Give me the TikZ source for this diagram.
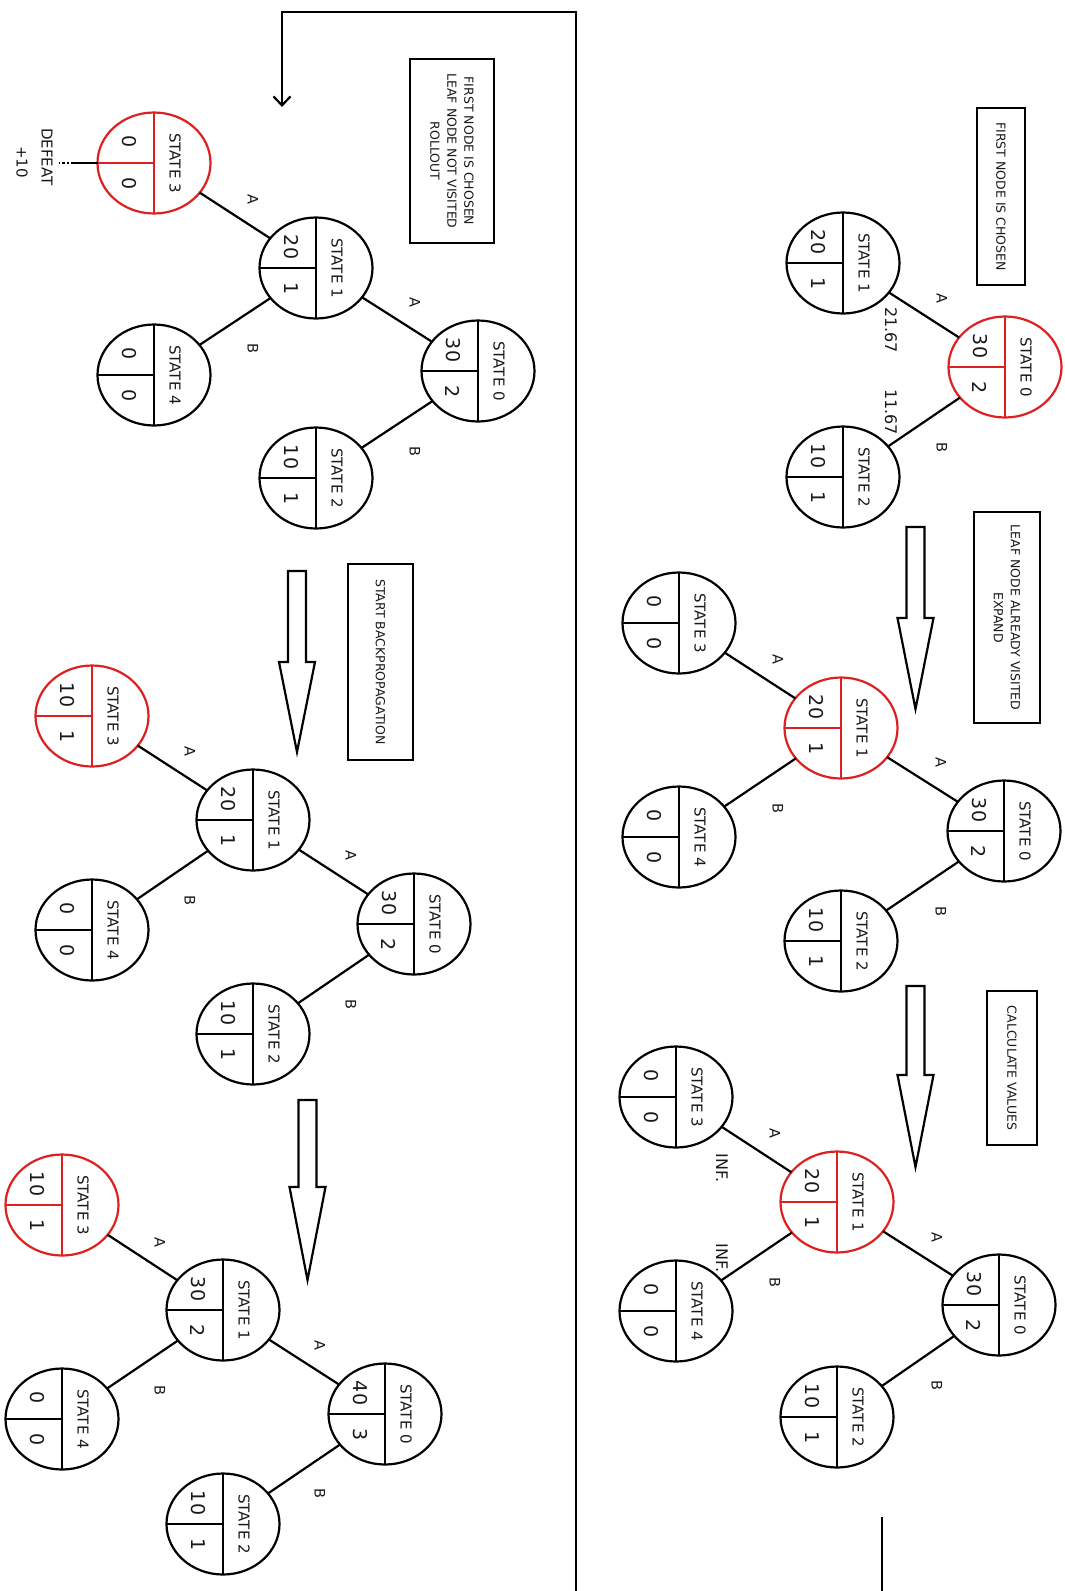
\documentclass[tikz,border=0pt]{standalone}
\usepackage{fontspec}
\setmainfont{DejaVu Sans}
\usetikzlibrary{shapes.geometric,arrows.meta}
\definecolor{selred}{RGB}{222,32,32}
\definecolor{ink}{RGB}{25,25,25}
\tikzset{
  st/.style={ellipse, draw, line width=2.2pt, minimum width=113pt, minimum height=101pt, inner sep=0pt, outer sep=0pt},
  rt/.style={rotate=-90, inner sep=0pt, text=ink},
  lab/.style={rt, font=\fontsize{15}{16}\selectfont},
  num/.style={rt, font=\fontsize{19}{20}\selectfont},
  elab/.style={rt, font=\fontsize{14.5}{15}\selectfont},
  val/.style={rt, font=\fontsize{16}{17}\selectfont},
  note/.style={draw, line width=2.2pt, rotate=-90, align=center, inner sep=0pt, text=ink, font=\fontsize{12.5}{17}\selectfont},
  edge/.style={line width=2.2pt},
  bigarrow/.style={line width=2.2pt, fill=white, line join=miter},
}
\newcommand{\mstate}[7]{%
  \node[st, draw=#4] (#1) at (#2,#3) {};
  \draw[line width=2.2pt, draw=#4] (#1.north) -- (#1.south);
  \draw[line width=2.2pt, draw=#4] (#1.west) -- (#1.center);
  \node[lab] (#1-name) at ([xshift=21pt]#1.center) {STATE #5};
  \node[num] (#1-v) at ([xshift=-25pt,yshift=21pt]#1.center) {#6};
  \node[num] (#1-n) at ([xshift=-25pt,yshift=-21pt]#1.center) {#7};
}
\newcommand{\bigdown}[4]{% centre x, top, head start, tip
  \draw[bigarrow] (#1-9,#2) -- (#1-9,#3) -- (#1-18,#3) -- (#1,#4) -- (#1+18,#3) -- (#1+9,#3) -- (#1+9,#2) -- cycle;
}
\begin{document}
\begin{tikzpicture}[x=1pt,y=-1pt]
\useasboundingbox[fill=white] (0,0) rectangle (1065,1591);

% ---------- Panel 1 ----------
\mstate{pAa}{1005}{367}{selred}{0}{30}{2}
\mstate{pAb}{843}{263}{black}{1}{20}{1}
\mstate{pAc}{843}{477}{black}{2}{10}{1}
\draw[edge] (pAa) -- (pAb);
\draw[edge] (pAa) -- (pAc);
\node[elab] (pAlA) at (942,298) {A};
\node[elab] (pAlB) at (942,447) {B};
\node[val] (pAv1) at (891,330) {21.67};
\node[val] (pAv2) at (891,412) {11.67};
\node[note, minimum width=177pt, minimum height=48pt] (boxA) at (1001,196.5) {FIRST NODE IS CHOSEN};

% ---------- Panel 2 ----------
\bigdown{915.5}{527}{618}{709}
\node[note, minimum width=211pt, minimum height=66pt] (boxB) at (1007,617.5) {LEAF NODE ALREADY VISITED\\EXPAND};
\mstate{pBb}{841}{728}{selred}{1}{20}{1}
\mstate{pBd}{679}{623}{black}{3}{0}{0}
\mstate{pBe}{679}{837}{black}{4}{0}{0}
\mstate{pBa}{1004}{831}{black}{0}{30}{2}
\mstate{pBc}{841}{941}{black}{2}{10}{1}
\draw[edge] (pBa) -- (pBb);
\draw[edge] (pBa) -- (pBc);
\draw[edge] (pBb) -- (pBd);
\draw[edge] (pBb) -- (pBe);
\node[elab] (pBl1) at (778,659) {A};
\node[elab] (pBl2) at (778,808) {B};
\node[elab] (pBl3) at (941,762) {A};
\node[elab] (pBl4) at (941,911) {B};

% ---------- Panel 3 ----------
\bigdown{915.5}{986}{1075}{1167}
\node[note, minimum width=154pt, minimum height=50pt] (boxC) at (1012,1068) {CALCULATE VALUES};
\mstate{pCb}{837}{1202}{selred}{1}{20}{1}
\mstate{pCd}{676}{1097}{black}{3}{0}{0}
\mstate{pCe}{676}{1311}{black}{4}{0}{0}
\mstate{pCa}{999}{1305}{black}{0}{30}{2}
\mstate{pCc}{837}{1417}{black}{2}{10}{1}
\draw[edge] (pCa) -- (pCb);
\draw[edge] (pCa) -- (pCc);
\draw[edge] (pCb) -- (pCd);
\draw[edge] (pCb) -- (pCe);
\node[elab] (pCl1) at (775,1133) {A};
\node[elab] (pCl2) at (775,1282) {B};
\node[elab] (pCl3) at (937,1237) {A};
\node[elab] (pCl4) at (937,1385) {B};
\node[val] (pCv1) at (722,1168) {INF.};
\node[val] (pCv2) at (722,1258) {INF.};
\coordinate (tailA) at (882,1517);
\coordinate (tailB) at (882,1591);
\draw[edge] (tailA) -- (tailB);

% ---------- Loop connector ----------
\coordinate (loop0) at (576,1591);
\coordinate (loop1) at (576,12);
\coordinate (loop2) at (282,12);
\coordinate (loop3) at (282,107);
\draw[edge, -{Straight Barb[length=9pt,width=17pt]}] (loop0) -- (loop1) -- (loop2) -- (loop3);

% ---------- Panel 4 ----------
\node[note, minimum width=184pt, minimum height=84pt] (boxD) at (452,151) {FIRST NODE IS CHOSEN\\LEAF NODE NOT VISITED\\ROLLOUT};
\mstate{pDd}{154}{163}{selred}{3}{0}{0}
\mstate{pDb}{316}{268}{black}{1}{20}{1}
\mstate{pDe}{154}{375}{black}{4}{0}{0}
\mstate{pDa}{478}{371}{black}{0}{30}{2}
\mstate{pDc}{316}{478}{black}{2}{10}{1}
\draw[edge] (pDa) -- (pDb);
\draw[edge] (pDa) -- (pDc);
\draw[edge] (pDb) -- (pDd);
\draw[edge] (pDb) -- (pDe);
\node[elab] (pDl1) at (253,199) {A};
\node[elab] (pDl2) at (253,348) {B};
\node[elab] (pDl3) at (415,302) {A};
\node[elab] (pDl4) at (415,451) {B};
\coordinate (rollA) at (73,163);
\coordinate (rollB) at (59,163);
\draw[edge] (pDd.west) -- (rollA);
\draw[edge, dotted] (rollA) -- (rollB);
\node[rt, font=\fontsize{15}{16}\selectfont] (defeat) at (47,157) {DEFEAT};
\node[rt, font=\fontsize{15}{16}\selectfont] (plusten) at (22,162) {+10};

% ---------- Panel 5 ----------
\bigdown{297}{571}{662}{752}
\node[note, minimum width=196pt, minimum height=65pt] (boxE) at (380.5,662) {START BACKPROPAGATION};
\mstate{pEd}{92}{716}{selred}{3}{10}{1}
\mstate{pEb}{253}{820}{black}{1}{20}{1}
\mstate{pEe}{92}{930}{black}{4}{0}{0}
\mstate{pEa}{414}{924}{black}{0}{30}{2}
\mstate{pEc}{253}{1034}{black}{2}{10}{1}
\draw[edge] (pEa) -- (pEb);
\draw[edge] (pEa) -- (pEc);
\draw[edge] (pEb) -- (pEd);
\draw[edge] (pEb) -- (pEe);
\node[elab] (pEl1) at (190,751) {A};
\node[elab] (pEl2) at (190,900) {B};
\node[elab] (pEl3) at (351,855) {A};
\node[elab] (pEl4) at (351,1004) {B};

% ---------- Panel 6 ----------
\bigdown{307.5}{1100}{1187}{1280}
\mstate{pFd}{62}{1205}{selred}{3}{10}{1}
\mstate{pFb}{223}{1310}{black}{1}{30}{2}
\mstate{pFe}{62}{1419}{black}{4}{0}{0}
\mstate{pFa}{385}{1414}{black}{0}{40}{3}
\mstate{pFc}{223}{1524}{black}{2}{10}{1}
\draw[edge] (pFa) -- (pFb);
\draw[edge] (pFa) -- (pFc);
\draw[edge] (pFb) -- (pFd);
\draw[edge] (pFb) -- (pFe);
\node[elab] (pFl1) at (160,1242) {A};
\node[elab] (pFl2) at (160,1390) {B};
\node[elab] (pFl3) at (320,1345) {A};
\node[elab] (pFl4) at (320,1493) {B};
\end{tikzpicture}
\end{document}
